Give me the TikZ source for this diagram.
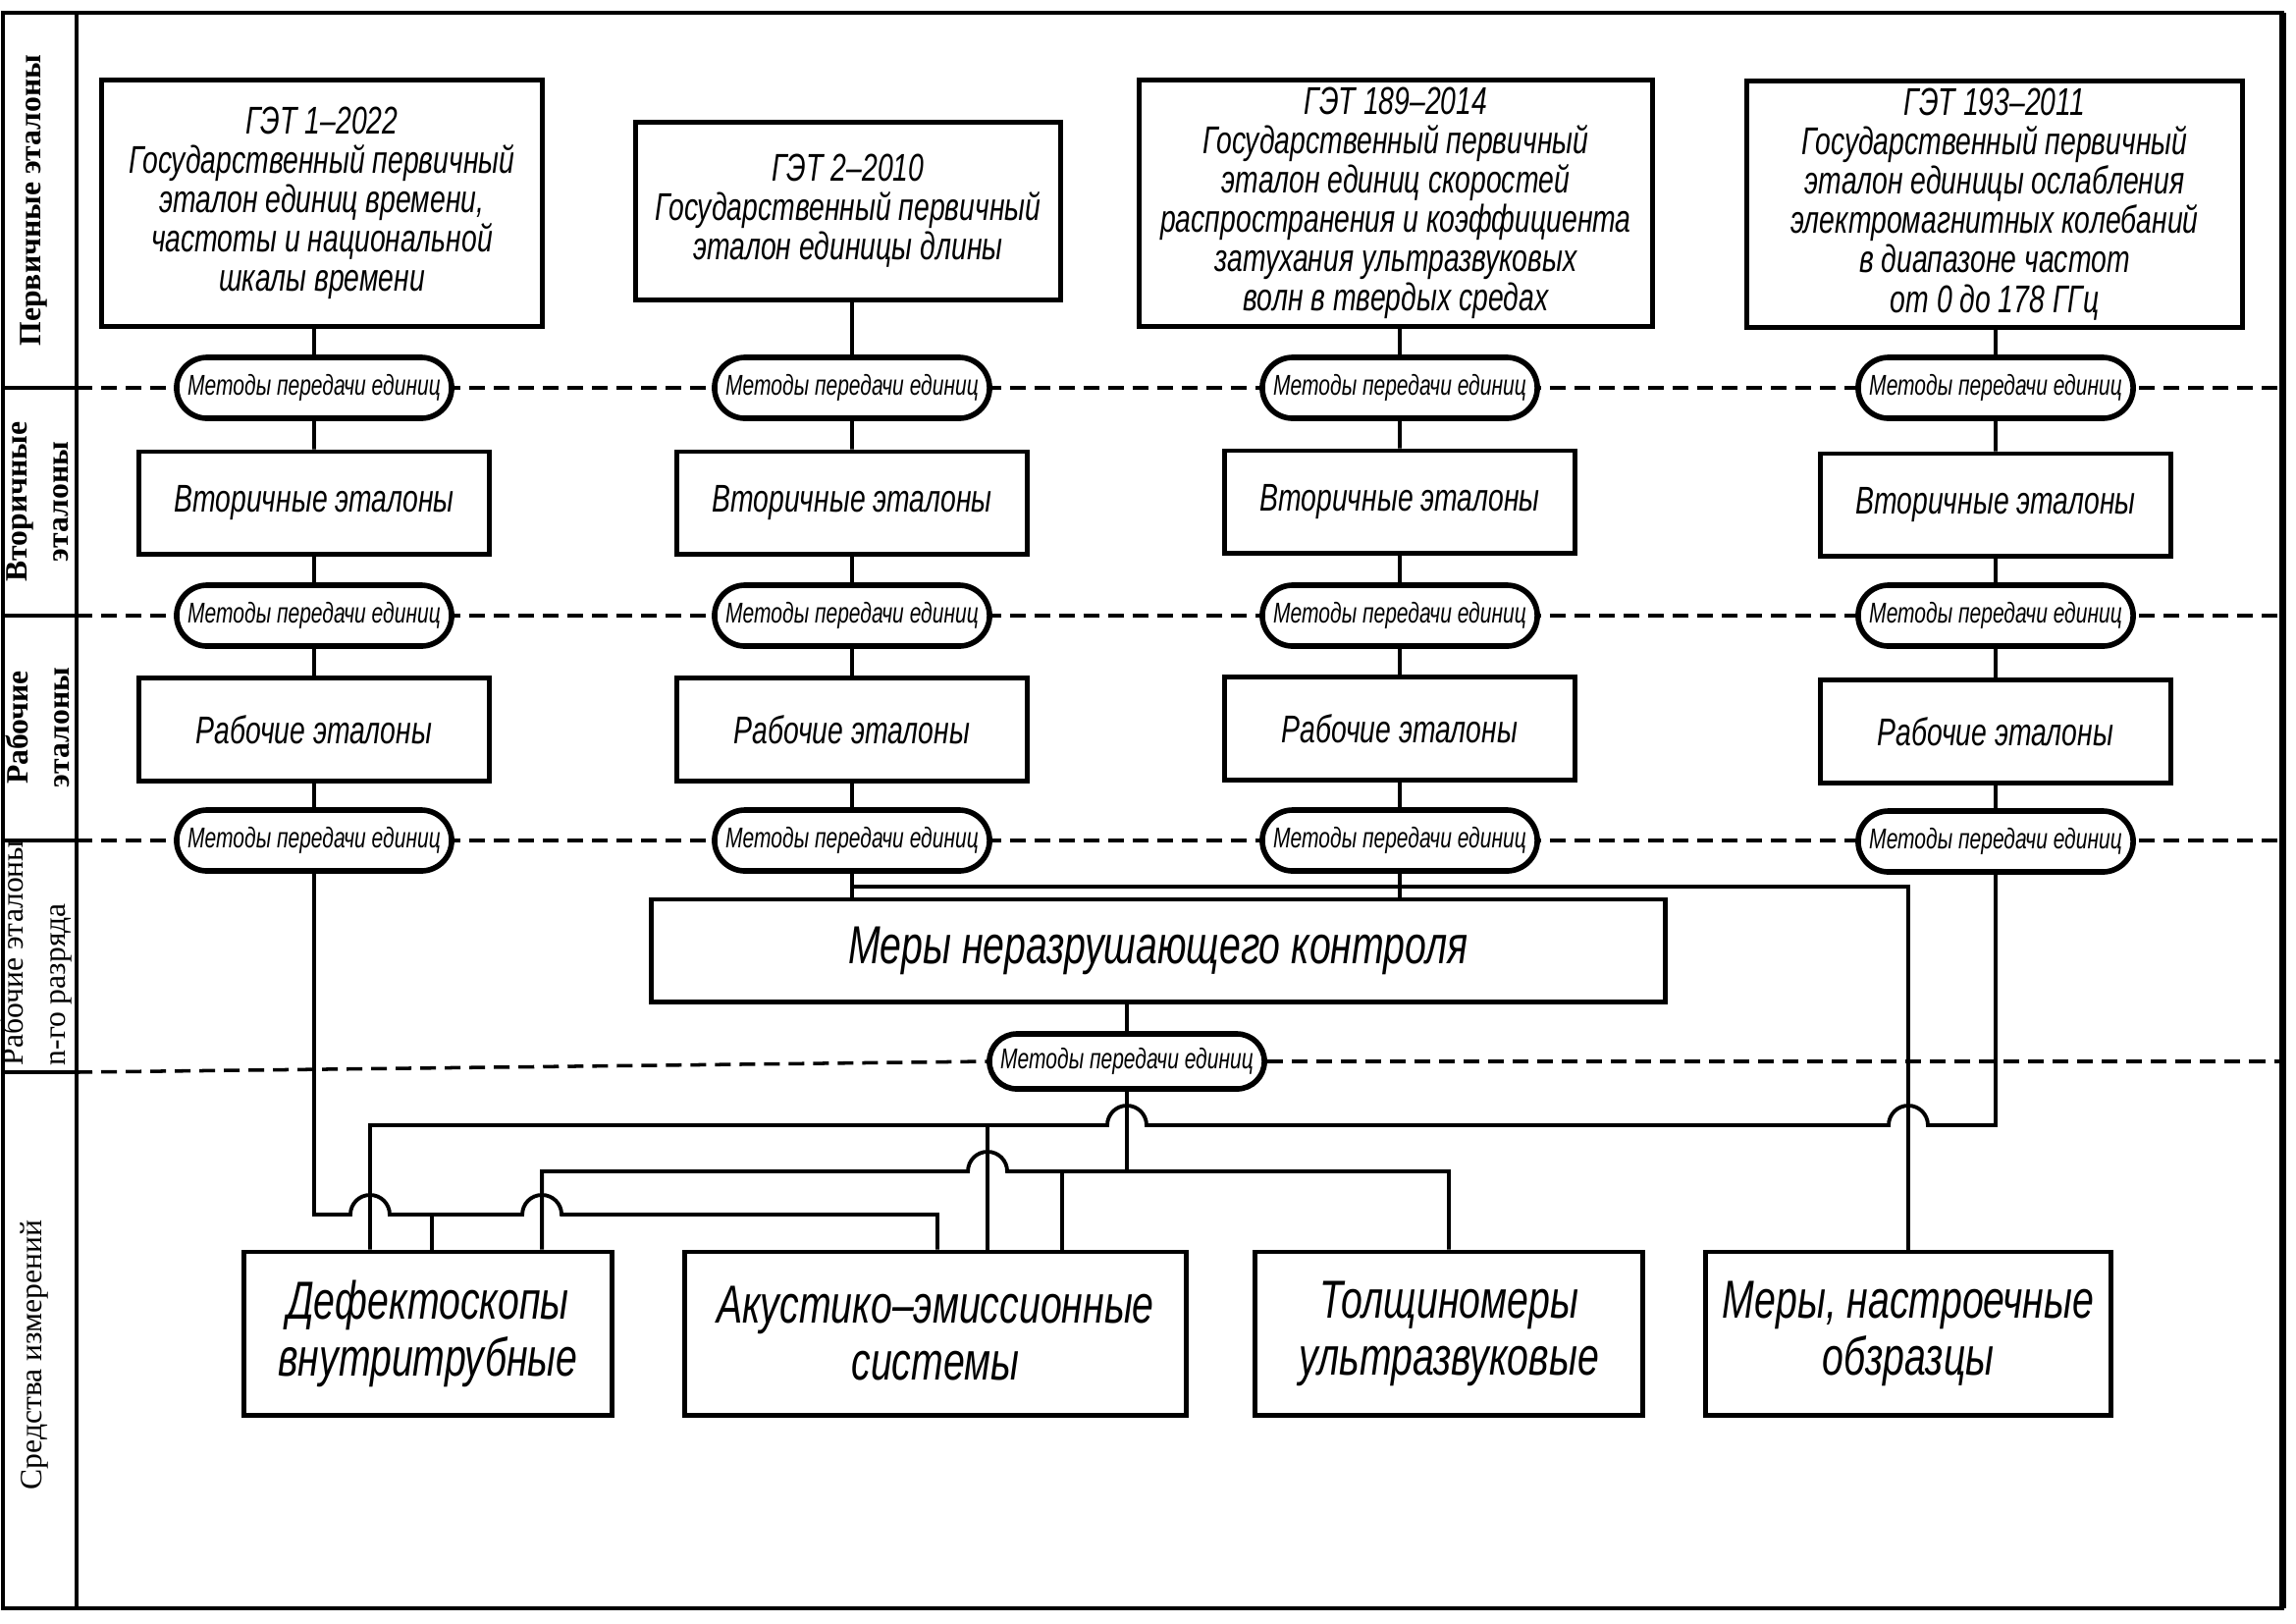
\documentclass[tikz,border=0pt]{standalone}
\usepackage{fontspec}
\usepackage{tikz}
\usetikzlibrary{shapes.misc, calc, backgrounds}
\newfontfamily\gostfont[FakeStretch=0.72]{Liberation Sans}
\newfontfamily\lanefont{Liberation Serif}
\tikzset{
  basebox/.style={rectangle,draw=black,line width=1.4pt,fill=white,align=center,inner sep=0pt,
    font=\gostfont\itshape\fontsize{11.2}{11.4}\selectfont},
  primnode/.style={basebox,minimum height=2.5cm},
  stagenode/.style={basebox,minimum width=3.57cm,minimum height=1.04cm,
    font=\gostfont\itshape\fontsize{11.2}{12}\selectfont},
  bignode/.style={basebox,minimum height=1.66cm,font=\gostfont\itshape\fontsize{15.5}{16.5}\selectfont},
  methnode/.style={rounded rectangle,draw=black,line width=1.6pt,fill=white,minimum width=2.8cm,
    minimum height=0.62cm,inner sep=0pt,font=\gostfont\itshape\fontsize{8.3}{9}\selectfont},
  link/.style={line width=1.1pt},
  seprule/.style={line width=1pt,dash pattern=on 0.16cm off 0.09cm},
  framerule/.style={line width=1.2pt},
  lanelabel/.style={rotate=90,align=center,inner sep=0pt,font=\lanefont\fontsize{9}{12}\selectfont}
}

\begin{document}
\begin{tikzpicture}[x=0.01cm,y=-0.01cm]
  \useasboundingbox (0,0) rectangle (2339,1653);

  %% Primary standards
  \node[primnode,minimum width=4.48cm] (get1) at (328,207)
    {ГЭТ 1–2022\\Государственный первичный\\эталон единиц времени,\\частоты и национальной\\шкалы времени};
  \node[primnode,minimum width=4.32cm,minimum height=1.81cm] (get2) at (864,215)
    {ГЭТ 2–2010\\Государственный первичный\\эталон единицы длины};
  \node[primnode,minimum width=5.22cm] (get3) at (1422,207)
    {ГЭТ 189–2014\\Государственный первичный\\эталон единиц скоростей\\распространения и коэффициента\\затухания ультразвуковых\\волн в твердых средах};
  \node[primnode,minimum width=5.04cm] (get4) at (2032,208)
    {ГЭТ 193–2011\\Государственный первичный\\эталон единицы ослабления\\электромагнитных колебаний\\в диапазоне частот\\от 0 до 178 ГГц};

  %% Transfer methods, secondary and working standards
  \node[methnode] (met1a) at (320,395) {Методы передачи единиц};
  \node[methnode] (met2a) at (868,395) {Методы передачи единиц};
  \node[methnode] (met3a) at (1426,395) {Методы передачи единиц};
  \node[methnode] (met4a) at (2033,395) {Методы передачи единиц};

  \node[stagenode] (vtor1) at (320,512) {Вторичные эталоны};
  \node[stagenode] (vtor2) at (868,512) {Вторичные эталоны};
  \node[stagenode] (vtor3) at (1426,511) {Вторичные эталоны};
  \node[stagenode] (vtor4) at (2033,514) {Вторичные эталоны};

  \node[methnode] (met1b) at (320,627) {Методы передачи единиц};
  \node[methnode] (met2b) at (868,627) {Методы передачи единиц};
  \node[methnode] (met3b) at (1426,627) {Методы передачи единиц};
  \node[methnode] (met4b) at (2033,627) {Методы передачи единиц};

  \node[stagenode,minimum height=1.05cm] (rab1) at (320,743) {Рабочие эталоны};
  \node[stagenode,minimum height=1.05cm] (rab2) at (868,743) {Рабочие эталоны};
  \node[stagenode,minimum height=1.05cm] (rab3) at (1426,742) {Рабочие эталоны};
  \node[stagenode,minimum height=1.05cm] (rab4) at (2033,745) {Рабочие эталоны};

  \node[methnode] (met1c) at (320,856) {Методы передачи единиц};
  \node[methnode] (met2c) at (868,856) {Методы передачи единиц};
  \node[methnode] (met3c) at (1426,856) {Методы передачи единиц};
  \node[methnode] (met4c) at (2033,857) {Методы передачи единиц};

  %% NDT measures
  \node[bignode,minimum width=10.33cm,minimum height=1.04cm] (mnk) at (1180,968) {Меры неразрушающего контроля};
  \node[methnode,minimum height=0.56cm] (metc) at (1148,1081) {Методы передачи единиц};

  %% Measuring instruments
  \node[bignode,minimum width=3.75cm] (dfk) at (436,1358) {Дефектоскопы\\внутритрубные};
  \node[bignode,minimum width=5.1cm] (aes) at (953,1358) {Акустико–эмиссионные\\системы};
  \node[bignode,minimum width=3.95cm] (tlsh) at (1476,1358) {Толщиномеры\\ультразвуковые};
  \node[bignode,minimum width=4.13cm] (mer) at (1944,1358) {Меры, настроечные\\обзразцы};

  \coordinate (dfk-l) at ([xshift=-0.59cm]dfk.north);
  \coordinate (dfk-m) at ([xshift=0.04cm]dfk.north);
  \coordinate (dfk-r) at ([xshift=1.16cm]dfk.north);
  \coordinate (aes-l) at ([xshift=0.02cm]aes.north);
  \coordinate (aes-m) at ([xshift=0.53cm]aes.north);
  \coordinate (aes-r) at ([xshift=1.29cm]aes.north);
  \coordinate (railA) at (0,1237);
  \coordinate (railB) at (0,1193);
  \coordinate (railC) at (0,1146);
  \coordinate (railD) at (0,903);

  %% Column chains
  \draw[link] (get1.south -| met1a.north) -- (met1a.north);
  \draw[link] (get2.south -| met2a.north) -- (met2a.north);
  \draw[link] (get3.south -| met3a.north) -- (met3a.north);
  \draw[link] (get4.south -| met4a.north) -- (met4a.north);
  \draw[link] (met1a) -- (vtor1); \draw[link] (vtor1) -- (met1b); \draw[link] (met1b) -- (rab1); \draw[link] (rab1) -- (met1c);
  \draw[link] (met2a) -- (vtor2); \draw[link] (vtor2) -- (met2b); \draw[link] (met2b) -- (rab2); \draw[link] (rab2) -- (met2c);
  \draw[link] (met3a) -- (vtor3); \draw[link] (vtor3) -- (met3b); \draw[link] (met3b) -- (rab3); \draw[link] (rab3) -- (met3c);
  \draw[link] (met4a) -- (vtor4); \draw[link] (vtor4) -- (met4b); \draw[link] (met4b) -- (rab4); \draw[link] (rab4) -- (met4c);

  %% Into the NDT measures
  \draw[link] (met2c.south) -- (met2c.south |- mnk.north);
  \draw[link] (met3c.south) -- (met3c.south |- mnk.north);
  \draw[link] (met2c.south |- railD) -| (mer.north);
  \draw[link] (metc.north |- mnk.south) -- (metc.north);

  %% Distribution to the instruments (with hops)
  \draw[link] (met1c.south) |- ($(dfk-l |- railA)+(-20,0)$) arc[start angle=180,end angle=0,radius=0.2cm]
    -- ($(dfk-r |- railA)+(-20,0)$) arc[start angle=180,end angle=0,radius=0.2cm] -| (aes-l);
  \draw[link] (dfk-m |- railA) -- (dfk-m);
  \draw[link] (metc.south) -- (metc.south |- railB);
  \draw[link] (dfk-r) |- ($(aes-m |- railB)+(-20,0)$) arc[start angle=180,end angle=0,radius=0.2cm] -| (tlsh.north);
  \draw[link] (aes-r |- railB) -- (aes-r);
  \draw[link] (met4c.south) |- ($(mer.north |- railC)+(20,0)$) arc[start angle=0,end angle=180,radius=0.2cm]
    -- ($(metc.south |- railC)+(20,0)$) arc[start angle=0,end angle=180,radius=0.2cm] -| (dfk-l);
  \draw[link] (aes-m |- railC) -- (aes-m);

  %% Lane labels
  \node[lanelabel,font=\lanefont\bfseries\fontsize{9}{12}\selectfont] (lane1) at (35,204) {Первичные эталоны};
  \node[lanelabel,font=\lanefont\bfseries\fontsize{9}{12}\selectfont] (lane2) at (38,511) {Вторичные\\эталоны};
  \node[lanelabel,font=\lanefont\bfseries\fontsize{9}{12}\selectfont] (lane3) at (38,741) {Рабочие\\эталоны};
  \node[lanelabel,align=left,anchor=west] (lane4) at (37,1086) {Рабочие эталоны\\n-го разряда};
  \node[lanelabel] (lane5) at (35,1380) {Средства измерений};

  \begin{pgfonlayer}{background}
    \draw[framerule] (3,13) rectangle (2325,1638);
    \draw[line width=2pt] (2325,13) -- (2325,1638);
    \draw[framerule] (78,13) -- (78,1638);
    \draw[framerule] (3,395) -- (78,395);
    \draw[framerule] (3,627) -- (78,627);
    \draw[framerule] (3,856) -- (78,856);
    \draw[framerule] (3,1092) -- (78,1092);
    \draw[seprule] (78,395) -- (2325,395);
    \draw[seprule] (78,627) -- (2325,627);
    \draw[seprule] (78,856) -- (2325,856);
    \draw[seprule] (78,1092) -- (metc.west);
    \draw[seprule] (metc.east) -- (2325,1081);
  \end{pgfonlayer}
\end{tikzpicture}
\end{document}
